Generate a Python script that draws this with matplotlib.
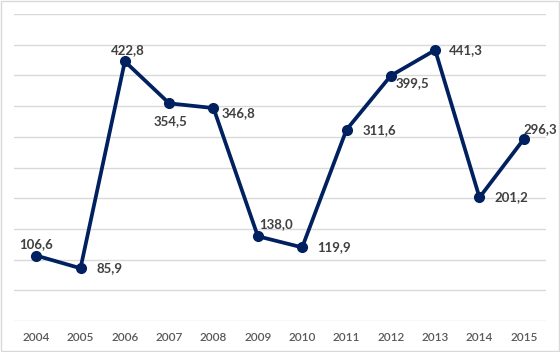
import matplotlib
matplotlib.use('Agg')
import matplotlib.pyplot as plt
from matplotlib.patches import Rectangle

years = ['2004', '2005', '2006', '2007', '2008', '2009', '2010', '2011', '2012', '2013', '2014', '2015']
values = [106.6, 85.9, 422.8, 354.5, 346.8, 138.0, 119.9, 311.6, 399.5, 441.3, 201.2, 296.3]

# label placement (offset in pixels, horizontal alignment)
offsets = [(0, 11, 'center'), (16, 0, 'left'), (3, 11, 'center'), (1, -18, 'center'),
           (8, -5, 'left'), (1, 12, 'left'), (15, 0, 'left'), (16, 0, 'left'),
           (5, -7, 'left'), (14, 0, 'left'), (15, 0, 'left'), (0, 10, 'left')]

plt.rcParams['font.family'] = ['Lato', 'DejaVu Sans']

fig = plt.figure(figsize=(5.6, 3.52), dpi=100)
ax = fig.add_axes([14 / 560, 31 / 352, 532 / 560, 307 / 352])

x = list(range(len(years)))
ax.plot(x, values, color='#002060', lw=2.7, marker='o', ms=7, solid_joinstyle='round')

for xi, v, (dx, dy, ha) in zip(x, values, offsets):
    ax.annotate(f'{v:.1f}'.replace('.', ','), (xi, v), xytext=(dx, dy), textcoords='offset pixels',
                ha=ha, va='center', fontsize=9.5, fontweight='bold', color='#404040')

ax.set_xlim(-0.5, len(years) - 0.5)
ax.set_ylim(0, 500)
ax.set_yticks(range(0, 501, 50))
ax.set_yticklabels([])
ax.tick_params(axis='y', length=0)
ax.set_xticks(x)
ax.set_xticklabels(years, fontsize=8.5, color='#595959', fontweight='semibold')
ax.tick_params(axis='x', length=0, pad=8)
ax.grid(axis='y', color='#d9d9d9', lw=1)
ax.set_axisbelow(True)
for s in ax.spines.values():
    s.set_visible(False)

fig.patches.append(Rectangle((0.002, 0.003), 0.996, 0.994, transform=fig.transFigure,
                             fill=False, edgecolor='#d9d9d9', lw=1))

fig.savefig('out.png', dpi=100)
